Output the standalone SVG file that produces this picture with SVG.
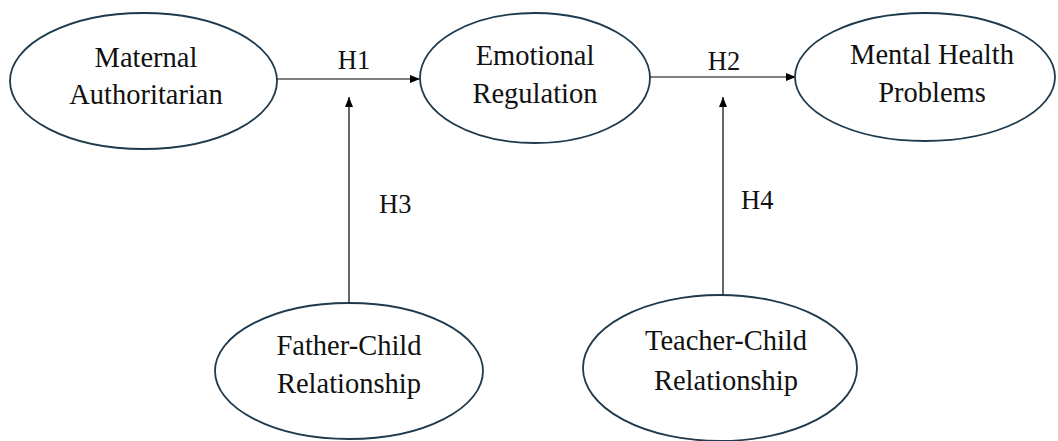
<svg xmlns="http://www.w3.org/2000/svg" width="1058" height="441" viewBox="0 0 1058 441">
<style>
.node ellipse{fill:#fff;stroke:#1e3a4c;stroke-width:1.8}
text{font-family:"Liberation Serif","Times New Roman",serif;font-size:28.5px;fill:#111;text-anchor:middle}
.conn line{stroke:#000;stroke-width:1.2}
.hl{font-size:26.5px}
.lbl{text-anchor:start}
</style>
<defs>
<marker id="ah" viewBox="0 0 10 8" refX="10" refY="4" markerWidth="10" markerHeight="8" markerUnits="userSpaceOnUse" orient="auto">
<path d="M0,0 L10,4 L0,8 Z" fill="#000"/>
</marker>
</defs>
<rect width="1058" height="441" fill="#fff"/>
<g id="connectors" class="conn">
<line x1="277" y1="79" x2="420" y2="79" marker-end="url(#ah)"/>
<line x1="650" y1="77" x2="796" y2="77" marker-end="url(#ah)"/>
<line x1="349" y1="303" x2="349" y2="97" marker-end="url(#ah)"/>
<line x1="723" y1="295" x2="723" y2="97" marker-end="url(#ah)"/>
</g>
<g id="labels">
<text class="hl" x="354" y="69">H1</text>
<text class="hl" x="724" y="70">H2</text>
<text class="hl lbl" x="379" y="213">H3</text>
<text class="hl lbl" x="741" y="209">H4</text>
</g>
<g id="maternal" class="node">
<ellipse cx="143.5" cy="81" rx="133.5" ry="68"/>
<text x="146" y="67">Maternal</text>
<text x="146" y="104">Authoritarian</text>
</g>
<g id="emotional" class="node">
<ellipse cx="535" cy="78" rx="115" ry="65"/>
<text x="535" y="65">Emotional</text>
<text x="535" y="103">Regulation</text>
</g>
<g id="mental" class="node">
<ellipse cx="925" cy="77" rx="130" ry="64"/>
<text x="932" y="64">Mental Health</text>
<text x="932" y="102">Problems</text>
</g>
<g id="father" class="node">
<ellipse cx="349" cy="371" rx="134" ry="68"/>
<text x="349" y="355">Father-Child</text>
<text x="349" y="393">Relationship</text>
</g>
<g id="teacher" class="node">
<ellipse cx="720" cy="368" rx="137" ry="73"/>
<text x="726" y="350">Teacher-Child</text>
<text x="726" y="390">Relationship</text>
</g>
</svg>
